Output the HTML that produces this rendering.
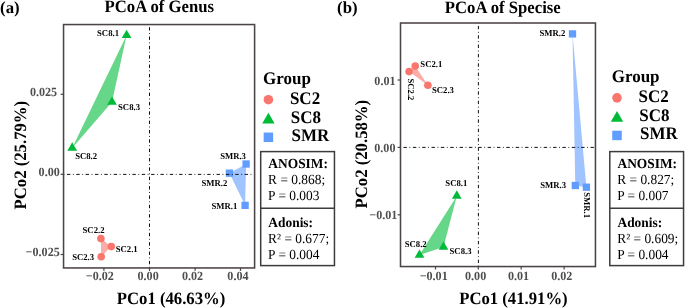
<!DOCTYPE html>
<html><head><meta charset="utf-8"><style>
html,body{margin:0;padding:0;background:#fff;width:685px;height:308px;overflow:hidden}
svg{display:block;will-change:transform}
text{font-family:"Liberation Serif",serif;text-rendering:geometricPrecision}
</style></head><body>
<svg width="685" height="308" viewBox="0 0 685 308">
<rect width="685" height="308" fill="#fff"/>
<polygon points="126.6,35.3 112.0,102.0 72.2,147.9" fill="#66D688"/>
<polygon points="100.9,238.6 111.3,246.6 101.2,256.7" fill="#FBADA7"/>
<polygon points="246.1,164.0 229.45,173.15 245.1,205.35" fill="#A0C4FF"/>
<polygon points="126.6,29.77 131.45,38.07 121.75,38.07" fill="#00BA38"/>
<polygon points="112.0,96.47 116.85,104.77 107.15,104.77" fill="#00BA38"/>
<polygon points="72.2,142.37 77.05,150.67 67.35,150.67" fill="#00BA38"/>
<circle cx="100.9" cy="238.6" r="3.8" fill="#F8766D"/>
<circle cx="111.3" cy="246.6" r="3.8" fill="#F8766D"/>
<circle cx="101.2" cy="256.7" r="3.8" fill="#F8766D"/>
<rect x="242.45" y="160.35" width="7.3" height="7.3" fill="#619CFF"/>
<rect x="225.80" y="169.50" width="7.3" height="7.3" fill="#619CFF"/>
<rect x="241.45" y="201.70" width="7.3" height="7.3" fill="#619CFF"/>
<line x1="149.5" y1="24.55" x2="149.5" y2="267.95" stroke="#111" stroke-width="1.0" stroke-dasharray="0.85 2.55 3.4 2.55" stroke-dashoffset="0.8"/>
<line x1="63.55" y1="174.4" x2="254.6" y2="174.4" stroke="#111" stroke-width="1.0" stroke-dasharray="0.85 2.55 3.4 2.55" stroke-dashoffset="0"/>
<text font-size="8.7" font-weight="bold" fill="#000" transform="translate(97.04,35.70) scale(1,1.04)">SC8.1</text>
<text font-size="8.7" font-weight="bold" fill="#000" transform="translate(118.04,109.70) scale(1,1.04)">SC8.3</text>
<text font-size="8.7" font-weight="bold" fill="#000" transform="translate(75.14,158.90) scale(1,1.04)">SC8.2</text>
<text font-size="8.7" font-weight="bold" fill="#000" transform="translate(82.54,232.80) scale(1,1.04)">SC2.2</text>
<text font-size="8.7" font-weight="bold" fill="#000" transform="translate(115.74,251.70) scale(1,1.04)">SC2.1</text>
<text font-size="8.7" font-weight="bold" fill="#000" transform="translate(72.14,259.80) scale(1,1.04)">SC2.3</text>
<text font-size="8.7" font-weight="bold" fill="#000" transform="translate(220.14,159.20) scale(1,1.04)">SMR.3</text>
<text font-size="8.7" font-weight="bold" fill="#000" transform="translate(201.54,186.00) scale(1,1.04)">SMR.2</text>
<text font-size="8.7" font-weight="bold" fill="#000" transform="translate(211.54,208.50) scale(1,1.04)">SMR.1</text>
<rect x="63.55" y="24.55" width="191.05" height="243.40" fill="none" stroke="#4b4444" stroke-width="1.55"/>
<line x1="103.9" y1="267.95" x2="103.9" y2="270.84999999999997" stroke="#4b4444" stroke-width="1.2" />
<line x1="149.5" y1="267.95" x2="149.5" y2="270.84999999999997" stroke="#4b4444" stroke-width="1.2" />
<line x1="195.1" y1="267.95" x2="195.1" y2="270.84999999999997" stroke="#4b4444" stroke-width="1.2" />
<line x1="240.5" y1="267.95" x2="240.5" y2="270.84999999999997" stroke="#4b4444" stroke-width="1.2" />
<line x1="60.65" y1="94.3" x2="63.55" y2="94.3" stroke="#4b4444" stroke-width="1.2" />
<line x1="60.65" y1="174.3" x2="63.55" y2="174.3" stroke="#4b4444" stroke-width="1.2" />
<line x1="60.65" y1="254.5" x2="63.55" y2="254.5" stroke="#4b4444" stroke-width="1.2" />
<text font-size="12.1" font-weight="bold" fill="#4D4D4D" transform="translate(85.76,280.40) scale(1,1.04)">−0.02</text>
<text font-size="12.1" font-weight="bold" fill="#4D4D4D" transform="translate(137.54,280.40) scale(1,1.04)">0.00</text>
<text font-size="12.1" font-weight="bold" fill="#4D4D4D" transform="translate(181.94,280.40) scale(1,1.04)">0.02</text>
<text font-size="12.1" font-weight="bold" fill="#4D4D4D" transform="translate(227.34,280.40) scale(1,1.04)">0.04</text>
<text font-size="12.1" font-weight="bold" fill="#4D4D4D" transform="translate(29.92,96.40) scale(1,1.04)">0.025</text>
<text font-size="12.1" font-weight="bold" fill="#4D4D4D" transform="translate(38.59,176.40) scale(1,1.04)">0.00</text>
<text font-size="12.1" font-weight="bold" fill="#4D4D4D" transform="translate(25.62,256.20) scale(1,1.04)">−0.025</text>
<polygon points="415.2,66.1 409.1,71.6 427.9,85.2" fill="#FBADA7"/>
<polygon points="572.5,33.9 575.3,185.5 586.4,187.2" fill="#A0C4FF"/>
<polygon points="456.8,195.9 419.5,255.0 443.5,247.0" fill="#66D688"/>
<circle cx="415.2" cy="66.1" r="3.8" fill="#F8766D"/>
<circle cx="409.1" cy="71.6" r="3.8" fill="#F8766D"/>
<circle cx="427.9" cy="85.2" r="3.8" fill="#F8766D"/>
<rect x="568.85" y="30.25" width="7.3" height="7.3" fill="#619CFF"/>
<rect x="571.65" y="181.85" width="7.3" height="7.3" fill="#619CFF"/>
<rect x="582.75" y="183.55" width="7.3" height="7.3" fill="#619CFF"/>
<polygon points="456.8,190.37 461.65,198.67 451.95,198.67" fill="#00BA38"/>
<polygon points="419.5,249.47 424.35,257.77 414.65,257.77" fill="#00BA38"/>
<polygon points="443.5,241.47 448.35,249.77 438.65,249.77" fill="#00BA38"/>
<line x1="478.4" y1="23.0" x2="478.4" y2="266.55" stroke="#111" stroke-width="1.0" stroke-dasharray="0.85 2.55 3.4 2.55" stroke-dashoffset="0.5"/>
<line x1="400.5" y1="147.4" x2="595.45" y2="147.4" stroke="#111" stroke-width="1.0" stroke-dasharray="0.85 2.55 3.4 2.55" stroke-dashoffset="0.4"/>
<text font-size="8.7" font-weight="bold" fill="#000" transform="translate(420.34,66.70) scale(1,1.04)">SC2.1</text>
<text font-size="8.7" font-weight="bold" fill="#000" transform="translate(431.94,92.70) scale(1,1.04)">SC2.3</text>
<text font-size="8.7" font-weight="bold" fill="#000" transform="translate(539.54,36.10) scale(1,1.04)">SMR.2</text>
<text font-size="8.7" font-weight="bold" fill="#000" transform="translate(540.24,187.90) scale(1,1.04)">SMR.3</text>
<text font-size="8.7" font-weight="bold" fill="#000" transform="translate(445.34,185.90) scale(1,1.04)">SC8.1</text>
<text font-size="8.7" font-weight="bold" fill="#000" transform="translate(404.74,247.10) scale(1,1.04)">SC8.2</text>
<text font-size="8.7" font-weight="bold" fill="#000" transform="translate(449.54,253.60) scale(1,1.04)">SC8.3</text>
<rect x="400.5" y="23.0" width="194.95" height="243.55" fill="none" stroke="#4b4444" stroke-width="1.55"/>
<line x1="435.5" y1="266.55" x2="435.5" y2="269.45" stroke="#4b4444" stroke-width="1.2" />
<line x1="478.3" y1="266.55" x2="478.3" y2="269.45" stroke="#4b4444" stroke-width="1.2" />
<line x1="521.2" y1="266.55" x2="521.2" y2="269.45" stroke="#4b4444" stroke-width="1.2" />
<line x1="564.1" y1="266.55" x2="564.1" y2="269.45" stroke="#4b4444" stroke-width="1.2" />
<line x1="397.6" y1="80.0" x2="400.5" y2="80.0" stroke="#4b4444" stroke-width="1.2" />
<line x1="397.6" y1="147.4" x2="400.5" y2="147.4" stroke="#4b4444" stroke-width="1.2" />
<line x1="397.6" y1="214.8" x2="400.5" y2="214.8" stroke="#4b4444" stroke-width="1.2" />
<text font-size="12.1" font-weight="bold" fill="#4D4D4D" transform="translate(419.66,280.30) scale(1,1.04)">−0.01</text>
<text font-size="12.1" font-weight="bold" fill="#4D4D4D" transform="translate(465.04,280.30) scale(1,1.04)">0.00</text>
<text font-size="12.1" font-weight="bold" fill="#4D4D4D" transform="translate(507.94,280.30) scale(1,1.04)">0.01</text>
<text font-size="12.1" font-weight="bold" fill="#4D4D4D" transform="translate(551.14,280.30) scale(1,1.04)">0.02</text>
<text font-size="12.1" font-weight="bold" fill="#4D4D4D" transform="translate(374.35,84.50) scale(1,1.04)">0.01</text>
<text font-size="12.1" font-weight="bold" fill="#4D4D4D" transform="translate(374.29,151.60) scale(1,1.04)">0.00</text>
<text font-size="12.1" font-weight="bold" fill="#4D4D4D" transform="translate(369.36,218.90) scale(1,1.04)">−0.01</text>
<text font-size="8.7" font-weight="bold" transform="translate(408.40,78.44) rotate(90) scale(1,1.04)">SC2.2</text>
<text font-size="8.7" font-weight="bold" transform="translate(583.80,192.24) rotate(90) scale(1,1.04)">SMR.1</text>
<text font-size="16.8" font-weight="bold" fill="#000" transform="translate(0.06,12.60) scale(1,1.0)">(a)</text>
<text font-size="16.8" font-weight="bold" fill="#000" transform="translate(337.06,12.60) scale(1,1.0)">(b)</text>
<text font-size="16.7" font-weight="bold" fill="#000" transform="translate(104.61,12.45) scale(1,1.04)">PCoA of Genus</text>
<text font-size="16.7" font-weight="bold" fill="#000" transform="translate(444.81,12.50) scale(1,1.04)">PCoA of Specise</text>
<text font-size="16.7" font-weight="bold" fill="#000" transform="translate(116.81,303.60) scale(1,1.04)">PCo1 (46.63%)</text>
<text font-size="16.7" font-weight="bold" fill="#000" transform="translate(459.21,303.70) scale(1,1.04)">PCo1 (41.91%)</text>
<text font-size="16.7" font-weight="bold" transform="translate(25.80,209.39) rotate(-90) scale(1,1.04)">PCo2 (25.79%)</text>
<text font-size="16.7" font-weight="bold" transform="translate(366.90,208.39) rotate(-90) scale(1,1.04)">PCo2 (20.58%)</text>
<text font-size="17.0" font-weight="bold" fill="#000" transform="translate(263.07,83.75) scale(1,1.04)">Group</text>
<circle cx="268.4" cy="99.7" r="4.8" fill="#F8766D"/>
<polygon points="268.4,112.80 274.60,123.60 262.20,123.60" fill="#00BA38"/>
<rect x="263.65" y="132.55" width="9.5" height="9.5" fill="#619CFF"/>
<text font-size="17.0" font-weight="bold" fill="#000" transform="translate(289.90,103.90) scale(1,1.04)">SC2</text>
<text font-size="17.0" font-weight="bold" fill="#000" transform="translate(290.70,122.50) scale(1,1.04)">SC8</text>
<text font-size="17.0" font-weight="bold" fill="#000" transform="translate(291.50,141.10) scale(1,1.04)">SMR</text>
<text font-size="17.0" font-weight="bold" fill="#000" transform="translate(611.67,81.90) scale(1,1.04)">Group</text>
<circle cx="617.0" cy="97.85000000000001" r="4.8" fill="#F8766D"/>
<polygon points="617.0,110.95 623.20,121.75 610.80,121.75" fill="#00BA38"/>
<rect x="612.25" y="130.70" width="9.5" height="9.5" fill="#619CFF"/>
<text font-size="17.0" font-weight="bold" fill="#000" transform="translate(638.50,102.05) scale(1,1.04)">SC2</text>
<text font-size="17.0" font-weight="bold" fill="#000" transform="translate(639.30,120.65) scale(1,1.04)">SC8</text>
<text font-size="17.0" font-weight="bold" fill="#000" transform="translate(640.10,139.25) scale(1,1.04)">SMR</text>
<rect x="260.7" y="151.6" width="73.75" height="114.0" fill="none" stroke="#3c3c3c" stroke-width="1.5"/>
<line x1="260.7" y1="208.3" x2="334.45" y2="208.3" stroke="#3c3c3c" stroke-width="1.5" />
<text font-size="13.4" font-weight="bold" fill="#000" transform="translate(268.37,167.90) scale(1,1.04)">ANOSIM:</text>
<text font-size="13.4" font-weight="normal" fill="#000" transform="translate(268.11,183.70) scale(1,1.04)">R = 0.868;</text>
<text font-size="13.4" font-weight="normal" fill="#000" transform="translate(268.11,199.60) scale(1,1.04)">P = 0.003</text>
<text font-size="13.4" font-weight="bold" fill="#000" transform="translate(268.37,227.40) scale(1,1.04)">Adonis:</text>
<text font-size="13.4" font-weight="normal" fill="#000" transform="translate(268.11,243.40) scale(1,1.04)">R² = 0.677;</text>
<text font-size="13.4" font-weight="normal" fill="#000" transform="translate(268.11,259.30) scale(1,1.04)">P = 0.004</text>
<rect x="609.8" y="151.6" width="73.75" height="114.0" fill="none" stroke="#3c3c3c" stroke-width="1.5"/>
<line x1="609.8" y1="208.3" x2="683.55" y2="208.3" stroke="#3c3c3c" stroke-width="1.5" />
<text font-size="13.4" font-weight="bold" fill="#000" transform="translate(617.47,167.90) scale(1,1.04)">ANOSIM:</text>
<text font-size="13.4" font-weight="normal" fill="#000" transform="translate(617.21,183.70) scale(1,1.04)">R = 0.827;</text>
<text font-size="13.4" font-weight="normal" fill="#000" transform="translate(617.21,199.60) scale(1,1.04)">P = 0.007</text>
<text font-size="13.4" font-weight="bold" fill="#000" transform="translate(617.47,227.40) scale(1,1.04)">Adonis:</text>
<text font-size="13.4" font-weight="normal" fill="#000" transform="translate(617.21,243.40) scale(1,1.04)">R² = 0.609;</text>
<text font-size="13.4" font-weight="normal" fill="#000" transform="translate(617.21,259.30) scale(1,1.04)">P = 0.004</text>
</svg>
</body></html>
